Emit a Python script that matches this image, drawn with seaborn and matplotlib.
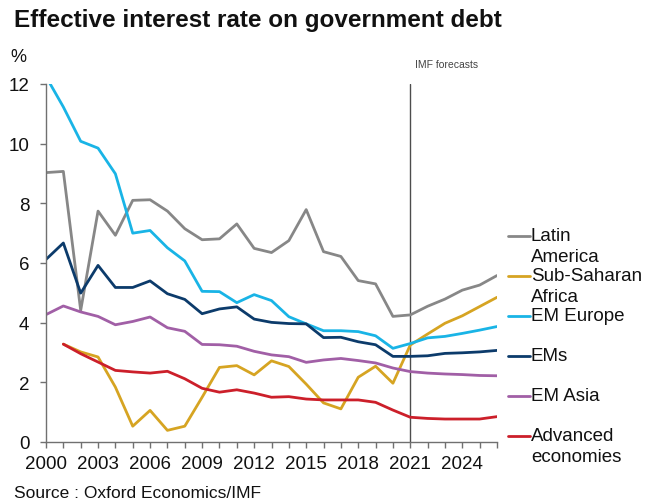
import numpy as np
import pandas as pd
import matplotlib
matplotlib.use("Agg")
import matplotlib.pyplot as plt
from matplotlib.lines import Line2D
from matplotlib.ticker import MultipleLocator
import seaborn as sns

# Effective interest rate on government debt, % (IMF forecasts from 2021)
years = list(range(2000, 2027))
latin_america = [9.03, 9.07, 4.41, 7.74, 6.93, 8.10, 8.12, 7.74, 7.15, 6.78, 6.81,
                 7.31, 6.49, 6.35, 6.75, 7.79, 6.38, 6.22, 5.41, 5.30, 4.21,
                 4.26, 4.55, 4.79, 5.09, 5.26, 5.58]
sub_saharan_africa = [np.nan, 3.28, 3.02, 2.85, 1.84, 0.53, 1.06, 0.39, 0.53, 1.50, 2.50,
                      2.56, 2.25, 2.72, 2.53, 1.94, 1.31, 1.11, 2.17, 2.54, 1.97,
                      3.25, 3.62, 3.98, 4.23, 4.54, 4.85]
em_europe = [12.25, 11.23, 10.08, 9.85, 8.99, 7.00, 7.09, 6.51, 6.07, 5.05, 5.04,
             4.67, 4.94, 4.74, 4.20, 3.96, 3.73, 3.73, 3.70, 3.56, 3.14,
             3.30, 3.49, 3.54, 3.64, 3.75, 3.87]
ems = [6.12, 6.67, 4.99, 5.92, 5.18, 5.18, 5.40, 4.97, 4.78, 4.30, 4.46,
       4.53, 4.12, 4.01, 3.97, 3.96, 3.50, 3.51, 3.36, 3.26, 2.87,
       2.87, 2.89, 2.97, 2.99, 3.02, 3.07]
em_asia = [4.27, 4.56, 4.36, 4.21, 3.93, 4.04, 4.19, 3.83, 3.71, 3.27, 3.26,
           3.21, 3.04, 2.92, 2.86, 2.67, 2.75, 2.80, 2.73, 2.65, 2.48,
           2.36, 2.31, 2.28, 2.26, 2.23, 2.22]
advanced = [np.nan, 3.28, 2.96, 2.68, 2.40, 2.35, 2.31, 2.37, 2.12, 1.80, 1.67,
            1.75, 1.64, 1.50, 1.52, 1.44, 1.41, 1.41, 1.41, 1.33, 1.07,
            0.83, 0.79, 0.77, 0.77, 0.77, 0.85]

series_names = ["Latin America", "Sub-Saharan Africa", "EM Europe", "EMs",
                "EM Asia", "Advanced economies"]
legend_labels = ["Latin\nAmerica", "Sub-Saharan\nAfrica", "EM Europe", "EMs",
                 "EM Asia", "Advanced\neconomies"]
series_values = [latin_america, sub_saharan_africa, em_europe, ems, em_asia, advanced]
colors = ["#878787", "#D6A422", "#19B4E6", "#0C3B6B", "#A15FA6", "#CC1F2A"]

forecast_start = 2021
x_tick_labels = list(range(2000, 2025, 3))
y_ticks = list(range(0, 13, 2))

frames = [pd.DataFrame({"year": years, "rate": vals, "series": name})
          for name, vals in zip(series_names, series_values)]
df = pd.concat(frames, ignore_index=True).dropna()

sns.set_style("ticks")
plt.rcParams["font.family"] = ["Liberation Sans", "DejaVu Sans"]

W, H = 645, 502
fig = plt.figure(figsize=(W / 100, H / 100), dpi=100)
ax = fig.add_axes([46 / W, 1 - 443 / H, (497 - 46) / W, (443 - 85) / H])

sns.lineplot(data=df, x="year", y="rate", hue="series", hue_order=series_names,
             palette=dict(zip(series_names, colors)), linewidth=2.0,
             legend=False, ax=ax)

ax.axvline(forecast_start, color="#4d4d4d", linewidth=1.0, zorder=0)

ax.set_xlim(2000, 2026)
ax.set_ylim(0, 12)
ax.set_xticks(x_tick_labels)
ax.xaxis.set_minor_locator(MultipleLocator(1))
ax.set_yticks(y_ticks)
ax.set_xlabel("")
ax.set_ylabel("")
for side in ("top", "right"):
    ax.spines[side].set_visible(False)
for side in ("left", "bottom"):
    ax.spines[side].set_color("#707070")
    ax.spines[side].set_linewidth(1.0)
ax.tick_params(axis="both", which="both", direction="out", color="#707070",
               width=1.0, labelsize=13.5, labelcolor="#111111")
ax.tick_params(axis="x", which="both", length=4, pad=5.5)
ax.tick_params(axis="y", length=4, pad=8)

# Right-hand key
key_rows = [237, 277, 317, 357, 397, 437]
for label, color, yp in zip(legend_labels, colors, key_rows):
    fig.add_artist(Line2D([508 / W, 530 / W], [1 - yp / H, 1 - yp / H],
                          transform=fig.transFigure, color=color, linewidth=2.0))
    fig.text(531 / W, 1 - (yp - 9) / H, label, fontsize=13.5, color="#111111",
             ha="left", va="top", linespacing=1.3)

fig.text(14 / W, 1 - 20 / H, "Effective interest rate on government debt",
         fontsize=17.5, fontweight="bold", ha="left", va="center", color="#111111")
fig.text(10 / W, 1 - 57 / H, "%", fontsize=13, ha="left", va="center", color="#111111")
fig.text(415 / W, 1 - 65 / H, "IMF forecasts", fontsize=7.5, ha="left", va="center",
         color="#444444")
fig.text(14 / W, 1 - 494 / H, "Source : Oxford Economics/IMF", fontsize=12.5,
         ha="left", va="center", color="#111111")

fig.savefig("out.png", dpi=100)
